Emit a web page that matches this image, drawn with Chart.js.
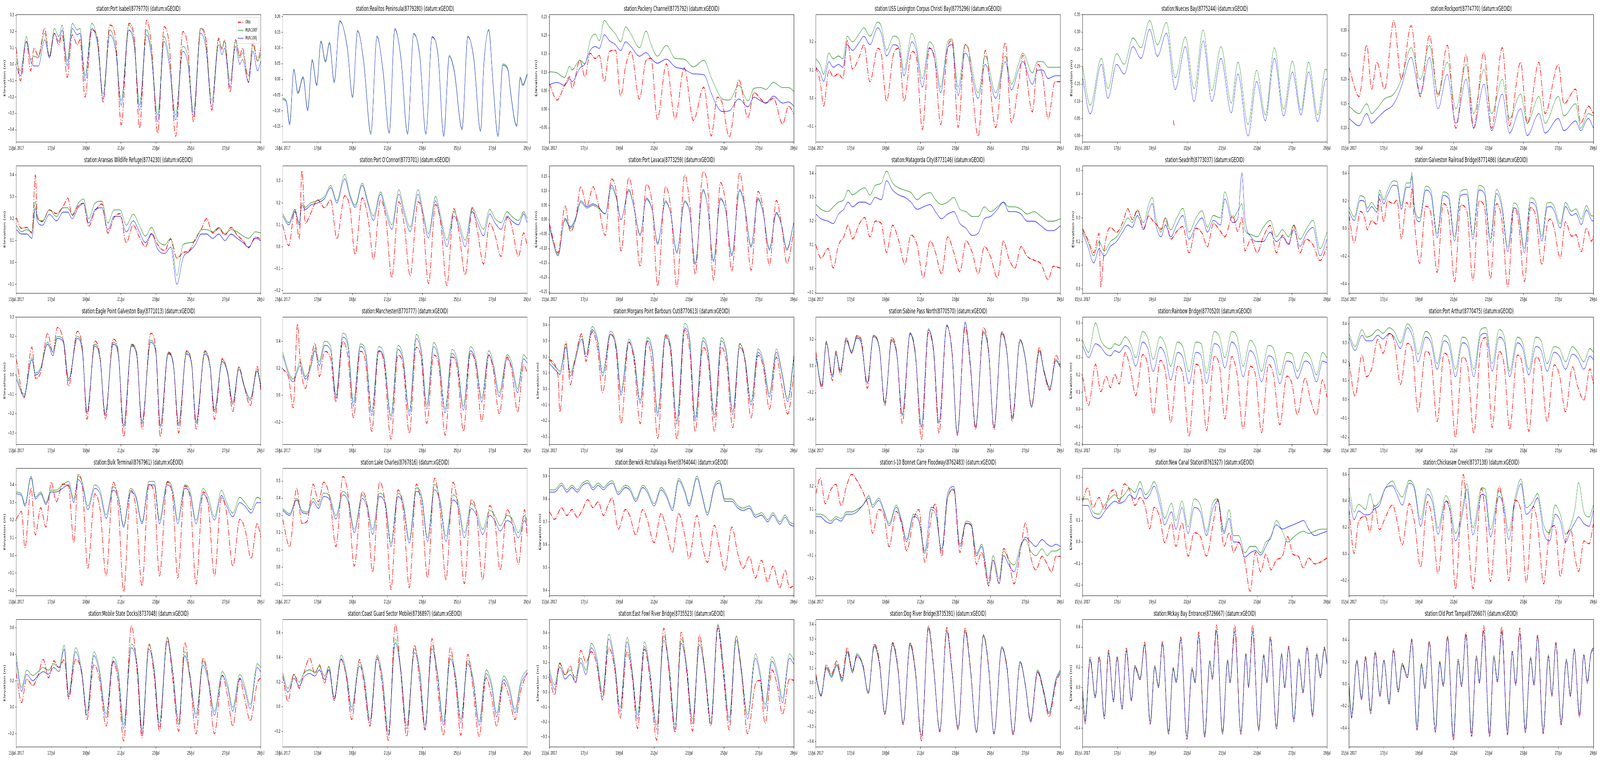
<!DOCTYPE html>
<html>
<head>
<meta charset="utf-8">
<script src="https://cdn.jsdelivr.net/npm/chart.js@4.4.0/dist/chart.umd.min.js"></script>
<style>
html, body { margin: 0; padding: 0; background: #fff; overflow: hidden; }
#view { position: absolute; left: 0; top: 0; width: 100vw; height: 100vh; overflow: hidden; background: #fff; }
#fig { position: absolute; left: 0; top: 0; width: 7800px; height: 1950px; background: #fff; transform-origin: 0 0; }
#fig canvas { position: absolute; }
</style>
</head>
<body>
<div id="view"><div id="fig"></div></div>
<script>
// x axis: days since 15 Jul 2017 00:00
const xTickDays = [0, 2, 4, 6, 8, 10, 12, 14];
const xTickLabels = ['15/Jul, 2017', '17/Jul', '19/Jul', '21/Jul', '23/Jul', '25/Jul', '27/Jul', '29/Jul'];
const seriesNames = ['Obs', 'RUN100f', 'RUN100j'];

const titles = [
  'station:Port Isabel(8779770) (datum:xGEOID)',
  'station:Realitos Peninsula(8779280) (datum:xGEOID)',
  'station:Packery Channel(8775792) (datum:xGEOID)',
  'station:USS Lexington Corpus Christi Bay(8775296) (datum:xGEOID)',
  'station:Nueces Bay(8775244) (datum:xGEOID)',
  'station:Rockport(8774770) (datum:xGEOID)',
  'station:Aransas Wildlife Refuge(8774230) (datum:xGEOID)',
  "station:Port O'Connor(8773701) (datum:xGEOID)",
  'station:Port Lavaca(8773259) (datum:xGEOID)',
  'station:Matagorda City(8773146) (datum:xGEOID)',
  'station:Seadrift(8773037) (datum:xGEOID)',
  'station:Galveston Railroad Bridge(8771486) (datum:xGEOID)',
  'station:Eagle Point Galveston Bay(8771013) (datum:xGEOID)',
  'station:Manchester(8770777) (datum:xGEOID)',
  'station:Morgans Point Barbours Cut(8770613) (datum:xGEOID)',
  'station:Sabine Pass North(8770570) (datum:xGEOID)',
  'station:Rainbow Bridge(8770520) (datum:xGEOID)',
  'station:Port Arthur(8770475) (datum:xGEOID)',
  'station:Bulk Terminal(8767961) (datum:xGEOID)',
  'station:Lake Charles(8767816) (datum:xGEOID)',
  'station:Berwick Atchafalaya River(8764044) (datum:xGEOID)',
  'station:I-10 Bonnet Carre Floodway(8762483) (datum:xGEOID)',
  'station:New Canal Station(8761927) (datum:xGEOID)',
  'station:Chickasaw Creek(8737138) (datum:xGEOID)',
  'station:Mobile State Docks(8737048) (datum:xGEOID)',
  'station:Coast Guard Sector Mobile(8736897) (datum:xGEOID)',
  'station:East Fowl River Bridge(8735523) (datum:xGEOID)',
  'station:Dog River Bridge(8735391) (datum:xGEOID)',
  'station:Mckay Bay Entrance(8726667) (datum:xGEOID)',
  'station:Old Port Tampa(8726607) (datum:xGEOID)'
];

const yLimits = [
  [-0.474, 0.305], [-0.199, 0.207], [-0.088, 0.257], [-0.154, 0.297], [-0.017, 0.351], [0.072, 0.333],
  [-0.14, 0.442], [-0.2115, 0.37], [-0.254, 0.187], [-0.102, 0.433], [-0.017, 0.52], [-0.466, 0.456],
  [-0.358, 0.301], [-0.362, 0.58], [-0.346, 0.45], [-0.586, 0.368], [-0.201, 0.535], [-0.237, 0.437],
  [-0.227, 0.495], [-0.165, 0.575], [0.378, 0.935], [-0.273, 0.28], [-0.248, 0.343], [-0.312, 0.648],
  [-0.299, 0.665], [-0.324, 0.71], [-0.367, 0.492], [-0.436, 0.435], [-0.584, 0.675], [-0.568, 0.588]
];
const ySteps = [
  0.1, 0.05, 0.05, 0.1, 0.05, 0.05,
  0.1, 0.1, 0.05, 0.1, 0.1, 0.2,
  0.1, 0.2, 0.1, 0.2, 0.1, 0.1,
  0.1, 0.1, 0.1, 0.1, 0.1, 0.2,
  0.2, 0.2, 0.1, 0.1, 0.2, 0.2
];

// ---- station series: t = day, obs / f (RUN100f) / j (RUN100j) in metres ----
const t01 = [0,0.24,0.58,0.83,1.02,1.27,1.63,1.9,2.19,2.43,2.63,2.92,3.21,3.5,3.65,3.94,4.33,4.67,4.97,5.36,5.7,6.01,6.45,6.77,7.06,7.47,7.74,8.1,8.47,8.76,9.13,9.54,9.83,10.15,10.56,10.86,11.2,11.59,11.78,11.93,12.24,12.56,12.8,12.95,13.3,13.55,13.82,14];
const obs01 = [0.10,-0.10,0.14,-0.04,0.10,0.05,0.22,0.04,0.19,0.12,0.18,-0.08,0.18,0.12,0.15,-0.20,0.21,0.15,-0.23,0.24,0.15,-0.37,0.25,0.15,-0.39,0.27,0.12,-0.42,0.23,0.12,-0.44,0.20,0.10,-0.35,0.22,0.16,-0.28,0.16,0.09,0.15,-0.17,0.15,0.05,0.10,-0.11,0.14,0.02,0.10];
const f01 = [0.02,-0.04,0.17,0.03,0.05,0.04,0.19,0.05,0.22,0.17,0.24,0.02,0.25,0.21,0.22,-0.07,0.25,0.13,-0.18,0.21,0.10,-0.22,0.24,0.12,-0.25,0.21,0.08,-0.31,0.17,0.04,-0.31,0.11,0.04,-0.29,0.22,0.13,-0.22,0.15,0.10,0.14,-0.10,0.14,0.04,0.07,-0.07,0.12,0.02,0.06];
const j01 = [-0.015,-0.07,0.14,0.02,-0.01,-0.01,0.15,0.04,0.19,0.14,0.21,-0.01,0.22,0.18,0.19,-0.10,0.22,0.11,-0.21,0.18,0.08,-0.25,0.21,0.10,-0.28,0.18,0.05,-0.35,0.14,0.00,-0.34,0.08,0.00,-0.32,0.19,0.10,-0.26,0.12,0.06,0.10,-0.14,0.11,0.00,0.03,-0.11,0.08,-0.04,0.02];

const t02 = [0,0.2,0.4,0.64,0.87,1.17,1.43,1.69,1.95,2.19,2.45,2.68,2.95,3.27,3.7,4.0,4.29,4.64,5.05,5.4,5.75,6.1,6.42,6.77,7.15,7.5,7.85,8.2,8.55,8.9,9.22,9.54,9.83,10.27,10.6,10.94,11.33,11.52,11.8,12.05,12.33,12.6,12.9,13.04,13.4,13.6,13.75,14];
const obs02 = [];
const f02 = [-0.06,-0.066,-0.14,0.033,-0.041,0.009,-0.095,0.064,-0.016,0.123,0.059,0.118,-0.006,0.184,0.104,-0.054,0.153,0.058,-0.17,0.135,0.027,-0.168,0.159,0.07,-0.17,0.144,0.077,-0.171,0.133,0.077,-0.178,0.077,0.027,-0.156,0.135,0.07,-0.162,0.052,0.156,-0.016,-0.178,0.049,0.033,-0.035,-0.146,0.008,-0.016,0.018];
const j02 = [-0.064,-0.07,-0.145,0.03,-0.045,0.005,-0.10,0.06,-0.02,0.12,0.055,0.115,-0.01,0.187,0.10,-0.058,0.156,0.054,-0.175,0.138,0.023,-0.172,0.162,0.066,-0.175,0.147,0.073,-0.175,0.136,0.073,-0.182,0.073,0.023,-0.16,0.138,0.066,-0.166,0.048,0.159,-0.02,-0.182,0.045,0.029,-0.039,-0.15,0.004,-0.02,0.014];

const t03 = [0,0.44,0.87,1.17,1.3,1.75,2.04,2.33,2.62,2.86,3.15,3.44,3.79,4.08,4.37,4.67,5.16,5.54,5.83,6.18,6.7,7.2,7.72,8.25,8.84,9.27,9.62,9.9,10.3,10.85,11.37,11.72,12.1,12.4,12.83,13.36,13.7,14];
const obs03 = [0.07,0.025,0.065,0.088,0.057,0.133,0.088,0.152,0.138,0.146,0.075,0.157,0.16,0.036,0.117,0.157,0.028,0.133,0.138,-0.027,0.123,-0.025,0.112,-0.03,0.06,-0.072,0.033,0.017,-0.075,0.08,-0.022,0.046,0.028,0.017,0.03,-0.04,0.009,-0.012];
const f03 = [0.102,0.099,0.086,0.117,0.107,0.133,0.123,0.186,0.204,0.186,0.241,0.223,0.204,0.183,0.223,0.204,0.167,0.212,0.175,0.144,0.173,0.138,0.136,0.115,0.133,0.086,0.049,0.028,0.025,0.065,0.023,0.057,0.059,0.054,0.073,0.059,0.059,0.049];
const j03 = [0.067,0.073,0.065,0.083,0.075,0.112,0.123,0.159,0.17,0.165,0.202,0.186,0.175,0.159,0.183,0.17,0.144,0.154,0.138,0.125,0.136,0.115,0.109,0.096,0.094,0.044,0.007,-0.006,-0.004,0.028,0.007,0.033,0.023,0.017,0.036,0.017,0.02,0.009];

const t04 = [0,0.25,0.45,0.75,1.0,1.3,1.55,1.8,2.1,2.5,2.75,3.1,3.55,3.75,4.05,4.45,4.75,5.05,5.5,5.75,6.1,6.5,6.8,7.15,7.55,7.8,8.15,8.55,8.7,9.3,9.7,10.3,10.85,11.2,11.6,11.85,12.4,12.7,13.0,13.3,13.7,14];
const obs04 = [0.111,0.059,-0.027,0.1,0.077,0.087,0.07,0.204,0.104,0.149,0.19,0.059,0.177,0.156,-0.01,0.156,0.177,-0.01,0.166,0.149,-0.11,0.177,0.142,-0.092,0.18,0.204,-0.103,0.19,0.183,-0.134,0.17,-0.103,0.197,-0.086,0.046,0.152,-0.048,0.121,0.073,-0.072,0.059,0.059];
const f04 = [0.14,0.12,0.085,0.16,0.14,0.15,0.14,0.22,0.2,0.23,0.25,0.22,0.27,0.255,0.17,0.22,0.21,0.1,0.23,0.19,0.07,0.2,0.17,0.04,0.2,0.21,0.04,0.19,0.18,0.02,0.15,0.02,0.15,0.05,0.12,0.16,0.09,0.13,0.13,0.11,0.11,0.11];
const j04 = [0.11,0.09,0.06,0.13,0.11,0.12,0.11,0.19,0.17,0.2,0.22,0.19,0.25,0.23,0.15,0.19,0.18,0.08,0.2,0.17,0.04,0.18,0.14,0.02,0.18,0.19,0.01,0.16,0.15,0.0,0.12,0.0,0.13,0.03,0.1,0.13,0.05,0.1,0.1,0.07,0.08,0.08];

const t05 = [0,0.44,1.08,1.46,1.95,2.39,2.89,3.35,3.85,4.29,4.81,5.2,5.25,5.31,5.89,6.39,6.91,7.41,7.93,8.52,8.9,9.48,9.97,10.47,10.99,11.52,12.02,12.51,12.95,13.47,13.91,14];
const obs05 = [null,null,null,null,null,null,null,null,null,null,null,0.045,0.03,null,null,null,null,null,null,null,null,null,null,null,null,null,null,null,null,null,null,null];
const f05 = [0.202,0.089,0.224,0.137,0.238,0.207,0.283,0.255,0.334,0.263,0.328,null,null,0.168,0.286,0.137,0.306,0.131,0.258,0.095,0.213,0.033,0.19,0.061,0.255,0.078,0.216,0.075,0.213,0.061,0.193,0.19];
const j05 = [0.17,0.064,0.207,0.109,0.207,0.179,0.258,0.224,0.308,0.23,0.297,null,null,0.134,0.258,0.1,0.275,0.1,0.224,0.067,0.179,0.0,0.157,0.044,0.224,0.058,0.185,0.061,0.185,0.042,0.162,0.165];

const t06 = [0,0.58,1.02,1.3,1.6,2.04,2.57,3.0,3.56,4.08,4.61,5.1,5.63,6.12,6.71,7.14,7.73,8.17,8.78,9.19,9.83,10.21,10.88,11.23,11.99,12.31,12.98,13.27,13.71,14];
const obs06 = [0.225,0.165,0.27,0.18,0.235,0.18,0.32,0.2,0.31,0.165,0.29,0.165,0.27,0.10,0.25,0.10,0.255,0.10,0.265,0.105,0.235,0.11,0.235,0.13,0.23,0.15,0.18,0.11,0.145,0.13];
const f06 = [0.145,0.13,0.15,0.13,0.14,0.16,0.17,0.2,0.265,0.2,0.27,0.17,0.235,0.14,0.23,0.13,0.22,0.13,0.2,0.12,0.17,0.11,0.165,0.11,0.165,0.125,0.15,0.1,0.13,0.125];
const j06 = [0.12,0.105,0.13,0.11,0.12,0.135,0.15,0.185,0.245,0.17,0.245,0.14,0.21,0.11,0.2,0.1,0.19,0.095,0.17,0.09,0.14,0.085,0.13,0.09,0.12,0.095,0.115,0.095,0.12,0.1];

const t07 = [0,0.3,0.6,0.9,1.1,1.2,1.5,1.9,2.3,2.7,2.95,3.2,3.55,3.85,4.15,4.5,4.9,5.25,5.6,5.95,6.3,6.7,7.05,7.4,7.75,8.1,8.5,8.85,9.2,9.55,9.9,10.25,10.6,10.9,11.25,11.6,11.95,12.3,12.65,13.0,13.3,13.7,14];
const obs07 = [0.205,0.156,0.16,0.134,0.40,0.214,0.187,0.24,0.223,0.258,0.294,0.214,0.258,0.27,0.165,0.232,0.267,0.134,0.205,0.223,0.09,0.17,0.116,0.072,0.134,0.081,0.054,0.107,0.019,0.045,0.054,0.107,0.152,0.2,0.134,0.156,0.125,0.16,0.125,0.098,0.067,0.116,0.107];
const f07 = [0.17,0.14,0.15,0.14,0.28,0.2,0.19,0.24,0.21,0.25,0.25,0.22,0.27,0.29,0.2,0.27,0.28,0.18,0.24,0.24,0.17,0.22,0.17,0.12,0.16,0.1,0.08,0.11,-0.06,0.08,0.09,0.1,0.15,0.15,0.14,0.16,0.13,0.15,0.14,0.12,0.11,0.14,0.135];
const j07 = [0.15,0.13,0.13,0.11,0.25,0.19,0.17,0.22,0.19,0.23,0.23,0.2,0.25,0.27,0.18,0.24,0.25,0.15,0.21,0.21,0.14,0.19,0.14,0.09,0.13,0.06,0.04,0.07,-0.1,0.02,0.05,0.08,0.13,0.13,0.11,0.13,0.1,0.13,0.11,0.09,0.07,0.11,0.1];

const t08 = [0,0.35,0.7,0.95,1.1,1.3,1.6,2.0,2.4,2.75,3.1,3.55,3.85,4.15,4.55,4.9,5.2,5.6,5.9,6.25,6.65,6.95,7.3,7.75,8.0,8.35,8.75,9.05,9.4,9.8,10.1,10.45,10.85,11.15,11.5,11.85,12.15,12.5,12.85,13.1,13.5,13.8,14];
const obs08 = [0.099,0.005,0.17,0.036,0.347,0.107,0.152,0.214,0.178,0.214,0.036,0.232,0.178,-0.035,0.223,0.125,-0.057,0.214,0.134,-0.141,0.205,0.107,-0.132,0.205,0.152,-0.168,0.192,0.107,-0.177,0.174,0.063,-0.128,0.174,0.072,-0.079,0.107,0.054,-0.044,0.134,0.099,-0.044,0.063,0.005];
const f08 = [0.15,0.11,0.17,0.11,0.2,0.18,0.2,0.21,0.23,0.28,0.21,0.33,0.24,0.19,0.29,0.2,0.14,0.25,0.18,0.1,0.26,0.17,0.09,0.26,0.18,0.06,0.23,0.14,0.03,0.16,0.11,0.03,0.18,0.13,0.08,0.17,0.13,0.11,0.16,0.14,0.12,0.16,0.13];
const j08 = [0.14,0.1,0.16,0.1,0.19,0.17,0.19,0.2,0.22,0.27,0.2,0.31,0.23,0.18,0.28,0.19,0.12,0.24,0.16,0.08,0.24,0.15,0.07,0.24,0.16,0.04,0.21,0.12,0.0,0.14,0.09,0.0,0.16,0.11,0.05,0.15,0.11,0.08,0.14,0.12,0.1,0.15,0.11];

const t09 = [0,0.5,0.9,1.2,1.5,1.8,2.15,2.5,2.8,3.2,3.55,3.85,4.1,4.55,4.85,5.2,5.55,5.9,6.2,6.65,6.95,7.3,7.75,8.05,8.35,8.8,9.05,9.4,9.8,10.1,10.45,10.9,11.2,11.55,11.95,12.25,12.6,13.0,13.3,13.6,14];
const obs09 = [-0.013,-0.114,0.047,-0.04,0.0,0.114,0.047,0.114,0.054,-0.054,0.141,0.087,-0.108,0.145,0.054,-0.162,0.121,0.047,-0.229,0.114,0.04,-0.232,0.155,0.047,-0.188,0.165,0.121,-0.209,0.128,0.054,-0.178,0.162,0.04,-0.175,0.098,0.034,-0.158,0.067,-0.02,-0.151,-0.04];
const f09 = [-0.03,-0.12,0.0,-0.03,0.0,0.06,0.04,0.05,0.04,0.02,0.11,0.07,0.0,0.1,0.04,-0.05,0.07,0.03,-0.08,0.06,0.02,-0.11,0.06,0.02,-0.15,0.1,0.05,-0.14,0.07,0.03,-0.12,0.1,0.04,-0.09,0.07,0.02,-0.1,0.02,-0.02,-0.1,-0.01];
const j09 = [-0.02,-0.125,0.005,-0.025,0.005,0.065,0.045,0.055,0.045,0.02,0.12,0.075,0.0,0.105,0.04,-0.055,0.075,0.03,-0.085,0.065,0.02,-0.115,0.065,0.02,-0.155,0.105,0.05,-0.145,0.075,0.03,-0.125,0.105,0.04,-0.095,0.075,0.02,-0.105,0.025,-0.02,-0.105,-0.01];

const t10 = [0,0.3,0.7,1.0,1.3,1.6,1.85,2.1,2.5,2.8,3.1,3.4,3.75,4.05,4.4,4.75,5.1,5.45,5.8,6.15,6.55,6.85,7.2,7.55,7.9,8.25,8.6,8.95,9.3,9.65,10.0,10.4,10.75,11.05,11.4,11.75,12.1,12.5,12.9,13.3,13.6,14];
const obs10 = [0.1,0.044,0.085,0.003,0.1,0.134,0.183,0.126,0.19,0.215,0.134,0.2,0.19,0.069,0.183,0.117,0.02,0.142,0.1,-0.038,0.117,0.069,-0.021,0.134,0.069,-0.013,0.117,0.069,-0.021,0.093,0.052,-0.038,0.117,0.044,0.003,0.093,0.052,0.036,0.02,-0.046,0.011,0.003];
const f10 = [0.27,0.25,0.24,0.26,0.28,0.29,0.33,0.31,0.33,0.34,0.31,0.35,0.36,0.41,0.36,0.34,0.33,0.32,0.29,0.31,0.32,0.29,0.27,0.28,0.3,0.25,0.24,0.22,0.22,0.26,0.24,0.26,0.28,0.26,0.26,0.25,0.23,0.24,0.22,0.2,0.2,0.21];
const j10 = [0.23,0.21,0.2,0.19,0.23,0.25,0.28,0.26,0.28,0.28,0.27,0.3,0.29,0.37,0.33,0.31,0.3,0.28,0.25,0.26,0.27,0.24,0.21,0.23,0.24,0.19,0.17,0.14,0.15,0.21,0.22,0.25,0.28,0.24,0.24,0.23,0.2,0.2,0.18,0.16,0.16,0.18];

const t11 = [0,0.3,0.65,0.95,1.05,1.25,1.6,1.95,2.3,2.6,2.85,3.15,3.5,3.8,4.0,4.2,4.5,4.75,5.05,5.4,5.75,6.1,6.5,6.85,7.15,7.5,7.9,8.15,8.6,8.9,9.13,9.3,9.65,10.0,10.35,10.75,11.1,11.45,11.8,12.1,12.45,12.8,13.2,13.6,14];
const obs11 = [0.256,0.21,0.153,0.235,0.01,0.17,0.26,0.239,0.28,0.338,0.293,0.334,0.256,0.309,0.29,0.276,0.252,0.3,0.21,0.243,0.264,0.153,0.256,0.235,0.178,0.276,0.243,0.22,0.309,0.243,0.3,0.161,0.21,0.153,0.219,0.268,0.153,0.227,0.186,0.268,0.153,0.21,0.186,0.12,0.178];
const f11 = [0.25,0.2,0.14,0.2,0.19,0.16,0.2,0.22,0.26,0.3,0.28,0.33,0.28,0.36,0.385,0.3,0.24,0.3,0.25,0.3,0.34,0.24,0.3,0.33,0.26,0.31,0.3,0.41,0.3,0.33,0.36,0.25,0.23,0.22,0.26,0.29,0.22,0.25,0.22,0.27,0.21,0.25,0.29,0.17,0.24];
const j11 = [0.24,0.18,0.11,0.17,0.16,0.14,0.18,0.2,0.24,0.27,0.26,0.31,0.25,0.33,0.36,0.27,0.22,0.27,0.22,0.27,0.31,0.21,0.27,0.3,0.24,0.29,0.27,0.38,0.28,0.3,0.49,0.3,0.22,0.2,0.2,0.24,0.2,0.22,0.19,0.25,0.18,0.23,0.26,0.14,0.21];

const t12 = [0,0.3,0.65,0.9,1.05,1.3,1.6,1.75,2.0,2.2,2.55,2.75,3.0,3.3,3.5,3.6,3.75,4.05,4.4,4.7,5.05,5.4,5.7,6.05,6.4,6.75,7.1,7.45,7.75,8.1,8.45,8.75,9.1,9.45,9.7,10.05,10.4,10.7,11.05,11.35,11.55,11.75,12.1,12.4,12.75,13.0,13.3,13.6,13.9,14];
const obs12 = [0.097,-0.1,0.125,0.078,-0.007,0.059,0.031,0.216,0.05,0.2,0.181,0.209,-0.072,0.19,0.153,0.294,0.05,-0.25,0.162,0.106,-0.316,0.181,0.106,-0.382,0.172,0.125,-0.373,0.2,0.162,-0.363,0.181,0.069,-0.42,0.153,0.059,-0.382,0.153,0.087,-0.26,0.031,0.069,0.003,-0.213,0.05,-0.054,-0.044,-0.166,0.003,-0.091,-0.054];
const f12 = [0.158,0.087,0.238,0.223,0.148,0.19,0.144,0.28,0.209,0.275,0.346,0.341,0.167,0.331,0.331,0.407,0.162,0.078,0.308,0.275,-0.035,0.266,0.247,-0.058,0.27,0.284,-0.044,0.313,0.289,-0.072,0.284,0.186,-0.133,0.186,0.144,-0.143,0.223,0.19,-0.054,0.186,0.19,0.162,0.036,0.19,0.125,0.144,0.069,0.167,0.092,0.092];
const j12 = [0.125,0.06,0.205,0.195,0.12,0.16,0.12,0.25,0.18,0.24,0.315,0.31,0.14,0.3,0.3,0.38,0.135,0.05,0.28,0.245,-0.065,0.24,0.22,-0.09,0.24,0.25,-0.075,0.28,0.255,-0.1,0.255,0.155,-0.165,0.15,0.11,-0.175,0.19,0.16,-0.09,0.155,0.16,0.13,0.005,0.16,0.095,0.11,0.03,0.135,0.06,0.055];

const t13 = [0,0.45,0.9,1.1,1.4,1.8,2.1,2.35,2.7,3.0,3.5,3.8,4.05,4.5,4.8,5.1,5.55,5.85,6.15,6.6,6.9,7.2,7.7,8.0,8.25,8.7,9.0,9.3,9.75,10.05,10.3,10.8,11.1,11.35,11.8,12.1,12.4,12.75,13.05,13.4,13.8,14];
const obs13 = [0.085,-0.117,0.145,-0.016,0.014,0.216,0.115,0.246,0.176,-0.057,0.226,0.125,-0.228,0.176,0.095,-0.228,0.186,0.115,-0.319,0.156,0.115,-0.279,0.216,0.125,-0.319,0.115,0.055,-0.299,0.125,0.055,-0.279,0.125,0.044,-0.228,0.085,0.014,-0.188,0.044,-0.057,-0.158,0.044,-0.077];
const f13 = [0.0,-0.1,0.09,0.01,0.04,0.17,0.12,0.2,0.18,-0.02,0.2,0.12,-0.19,0.16,0.09,-0.2,0.17,0.11,-0.26,0.16,0.11,-0.24,0.18,0.12,-0.26,0.12,0.06,-0.25,0.12,0.06,-0.24,0.12,0.05,-0.18,0.08,0.02,-0.14,0.04,-0.05,-0.12,0.03,-0.05];
const j13 = [-0.02,-0.11,0.08,0.0,0.03,0.16,0.1,0.19,0.17,-0.03,0.19,0.11,-0.2,0.15,0.08,-0.21,0.16,0.1,-0.27,0.15,0.1,-0.25,0.17,0.11,-0.27,0.11,0.05,-0.26,0.11,0.05,-0.25,0.11,0.04,-0.19,0.07,0.01,-0.15,0.03,-0.06,-0.13,0.02,-0.06];

const t14 = [0,0.35,0.6,0.85,1.0,1.3,1.6,1.85,2.1,2.4,2.75,3.05,3.45,3.75,4.05,4.45,4.75,5.1,5.5,5.8,6.2,6.6,6.9,7.25,7.65,7.95,8.25,8.65,8.95,9.3,9.7,10.0,10.35,10.75,11.05,11.4,11.8,12.05,12.4,12.85,13.1,13.45,13.8,14];
const obs14 = [0.196,0.124,-0.092,0.528,0.254,0.052,0.254,0.384,0.139,0.325,0.269,-0.049,0.399,0.269,-0.165,0.326,0.24,-0.266,0.326,0.24,-0.323,0.297,0.211,-0.28,0.355,0.254,-0.208,0.297,0.211,-0.295,0.283,0.196,-0.266,0.312,0.225,-0.193,0.297,0.196,-0.136,0.283,0.196,-0.121,0.225,0.167];
const f14 = [0.32,0.17,0.12,0.2,0.25,0.14,0.22,0.35,0.25,0.4,0.36,0.0,0.46,0.38,-0.05,0.38,0.33,-0.12,0.36,0.3,-0.15,0.37,0.28,-0.12,0.45,0.33,-0.07,0.39,0.28,-0.1,0.34,0.26,-0.08,0.36,0.28,-0.02,0.33,0.25,0.02,0.3,0.25,0.05,0.3,0.27];
const j14 = [0.3,0.15,0.1,0.18,0.22,0.12,0.2,0.33,0.22,0.37,0.33,-0.02,0.43,0.35,-0.08,0.36,0.3,-0.15,0.33,0.27,-0.18,0.34,0.25,-0.15,0.42,0.3,-0.1,0.36,0.25,-0.13,0.31,0.23,-0.11,0.33,0.25,-0.05,0.3,0.22,-0.01,0.27,0.22,0.02,0.27,0.24];

const t15 = [0,0.5,0.6,0.95,1.2,1.45,1.85,2.1,2.45,2.75,3.05,3.5,3.85,4.1,4.55,4.85,5.2,5.6,5.9,6.2,6.65,6.95,7.3,7.75,8.05,8.35,8.8,9.1,9.45,9.85,10.15,10.5,10.9,11.2,11.55,11.95,12.25,12.6,13.0,13.3,13.65,14];
const obs15 = [0.186,0.076,-0.144,0.295,0.027,0.173,0.344,0.173,0.357,0.259,-0.022,0.344,0.21,-0.217,0.295,0.173,-0.217,0.295,0.137,-0.309,0.332,0.222,-0.315,0.369,0.222,-0.266,0.259,0.173,-0.266,0.259,0.161,-0.242,0.283,0.173,-0.181,0.21,0.137,-0.126,0.198,0.027,-0.156,0.088];
const f15 = [0.18,0.12,0.11,0.28,0.1,0.18,0.33,0.22,0.39,0.32,0.1,0.36,0.26,-0.02,0.31,0.22,-0.07,0.32,0.24,-0.15,0.34,0.27,-0.2,0.41,0.3,-0.18,0.32,0.23,-0.16,0.32,0.23,-0.14,0.28,0.2,-0.08,0.25,0.18,-0.03,0.25,0.12,-0.06,0.21];
const j15 = [0.16,0.1,0.09,0.26,0.08,0.16,0.31,0.2,0.37,0.3,0.08,0.34,0.24,-0.04,0.29,0.2,-0.09,0.3,0.22,-0.17,0.32,0.25,-0.22,0.38,0.28,-0.2,0.3,0.21,-0.18,0.3,0.21,-0.16,0.26,0.18,-0.1,0.23,0.16,-0.05,0.23,0.1,-0.08,0.19];

const t16 = [0,0.35,0.6,0.95,1.15,1.4,1.75,2.05,2.35,2.6,2.95,3.3,3.65,3.95,4.35,4.65,4.95,5.4,5.7,6.05,6.45,6.75,7.05,7.5,7.8,8.1,8.55,8.85,9.15,9.6,9.9,10.2,10.65,10.95,11.25,11.7,12.0,12.35,12.8,13.05,13.4,13.75,14];
const obs16 = [0.111,-0.167,0.184,-0.108,0.111,-0.064,0.214,0.097,0.228,0.199,-0.167,0.228,0.126,-0.298,0.214,0.082,-0.43,0.243,0.097,-0.547,0.25,0.097,-0.503,0.301,0.111,-0.518,0.294,-0.006,-0.474,0.287,0.111,-0.474,0.258,0.097,-0.416,0.199,0.053,-0.298,0.14,-0.035,-0.181,0.082,0.009];
const f16 = [0.08,-0.14,0.18,-0.07,0.1,-0.03,0.2,0.11,0.22,0.18,-0.12,0.23,0.13,-0.27,0.2,0.08,-0.36,0.25,0.09,-0.45,0.28,0.12,-0.42,0.3,0.1,-0.5,0.32,0.02,-0.45,0.26,0.1,-0.45,0.25,0.1,-0.38,0.2,0.06,-0.3,0.12,-0.02,-0.16,0.05,0.0];
const j16 = [0.07,-0.15,0.17,-0.08,0.09,-0.04,0.19,0.1,0.21,0.17,-0.13,0.22,0.12,-0.28,0.19,0.07,-0.37,0.24,0.08,-0.46,0.27,0.11,-0.43,0.31,0.09,-0.52,0.33,0.01,-0.46,0.25,0.09,-0.46,0.24,0.09,-0.39,0.19,0.05,-0.31,0.11,-0.03,-0.17,0.04,-0.01];

const t17 = [0,0.35,0.75,1.05,1.35,1.6,1.85,2.1,2.45,2.75,3.05,3.45,3.75,4.05,4.45,4.75,5.05,5.45,5.75,6.1,6.5,6.8,7.1,7.55,7.85,8.15,8.55,8.85,9.2,9.6,9.9,10.25,10.65,10.95,11.3,11.7,12.0,12.3,12.75,13.05,13.4,13.75,14];
const obs17 = [0.193,0.025,0.261,0.103,0.193,0.126,0.204,0.148,0.328,0.227,0.081,0.317,0.249,-0.031,0.283,0.216,-0.076,0.249,0.204,-0.155,0.261,0.204,-0.121,0.306,0.249,-0.054,0.306,0.204,-0.11,0.249,0.204,-0.133,0.261,0.193,-0.088,0.193,0.148,-0.031,0.182,0.058,-0.031,0.171,0.07];
const f17 = [0.4,0.33,0.5,0.4,0.36,0.35,0.38,0.37,0.42,0.38,0.3,0.45,0.41,0.29,0.42,0.37,0.25,0.39,0.36,0.22,0.39,0.38,0.21,0.45,0.42,0.3,0.45,0.42,0.25,0.4,0.36,0.22,0.37,0.35,0.2,0.33,0.32,0.22,0.33,0.3,0.2,0.33,0.3];
const j17 = [0.37,0.3,0.38,0.36,0.32,0.31,0.34,0.33,0.37,0.34,0.25,0.39,0.35,0.22,0.36,0.31,0.17,0.33,0.3,0.15,0.33,0.31,0.15,0.38,0.36,0.24,0.39,0.35,0.19,0.34,0.3,0.16,0.31,0.29,0.15,0.28,0.27,0.18,0.28,0.26,0.16,0.28,0.27];

const t18 = [0,0.35,0.75,1.0,1.3,1.65,1.95,2.3,2.6,2.95,3.35,3.65,3.95,4.4,4.7,5.05,5.45,5.75,6.1,6.5,6.8,7.15,7.55,7.85,8.2,8.6,8.9,9.2,9.65,9.95,10.3,10.7,11.0,11.35,11.75,12.05,12.4,12.8,13.1,13.45,13.8,14];
const obs18 = [0.204,0.018,0.235,0.121,0.162,0.317,0.245,0.348,0.307,0.08,0.297,0.245,-0.065,0.255,0.214,-0.117,0.245,0.193,-0.2,0.224,0.173,-0.179,0.286,0.328,-0.148,0.255,0.173,-0.158,0.235,0.173,-0.169,0.224,0.173,-0.117,0.183,0.131,-0.065,0.173,0.069,-0.003,0.162,0.08];
const f18 = [0.35,0.28,0.37,0.33,0.34,0.37,0.35,0.38,0.36,0.3,0.4,0.36,0.24,0.36,0.33,0.19,0.34,0.31,0.16,0.33,0.31,0.16,0.37,0.38,0.19,0.37,0.33,0.15,0.33,0.3,0.16,0.33,0.31,0.19,0.28,0.27,0.2,0.28,0.25,0.2,0.27,0.25];
const j18 = [0.33,0.26,0.34,0.31,0.31,0.34,0.32,0.35,0.33,0.27,0.38,0.33,0.2,0.33,0.3,0.16,0.31,0.28,0.12,0.3,0.28,0.12,0.34,0.35,0.15,0.33,0.3,0.12,0.3,0.27,0.13,0.28,0.26,0.15,0.25,0.23,0.16,0.24,0.22,0.16,0.23,0.21];

const t19 = [0,0.3,0.5,0.85,1.1,1.4,1.7,2.0,2.3,2.65,3.0,3.3,3.55,3.8,4.1,4.5,4.8,5.15,5.55,5.85,6.15,6.55,6.85,7.2,7.6,7.9,8.2,8.65,8.95,9.25,9.65,9.95,10.3,10.7,11.0,11.35,11.75,12.05,12.4,12.8,13.1,13.45,13.8,14];
const obs19 = [0.205,0.249,0.044,0.382,0.116,0.271,0.161,0.415,0.305,0.404,0.393,0.072,0.46,0.382,-0.072,0.349,0.26,-0.116,0.415,0.271,-0.205,0.371,0.271,-0.172,0.404,0.349,-0.116,0.415,0.338,-0.127,0.393,0.327,-0.161,0.36,0.282,-0.116,0.327,0.238,-0.061,0.205,0.15,-0.017,0.183,0.105];
const f19 = [0.36,0.35,0.29,0.45,0.33,0.36,0.3,0.37,0.37,0.4,0.42,0.32,0.45,0.41,0.28,0.4,0.37,0.23,0.39,0.34,0.17,0.38,0.34,0.19,0.42,0.42,0.2,0.42,0.38,0.2,0.4,0.37,0.2,0.38,0.33,0.22,0.37,0.3,0.24,0.33,0.3,0.26,0.33,0.32];
const j19 = [0.35,0.34,0.28,0.44,0.32,0.35,0.29,0.36,0.36,0.38,0.4,0.3,0.43,0.39,0.26,0.38,0.35,0.21,0.37,0.32,0.16,0.36,0.33,0.18,0.4,0.4,0.18,0.4,0.36,0.18,0.38,0.35,0.18,0.35,0.3,0.2,0.34,0.28,0.22,0.3,0.28,0.24,0.3,0.3];

const t20 = [0,0.4,0.8,1.1,1.4,1.75,2.05,2.35,2.7,3.05,3.45,3.75,4.1,4.55,4.85,5.15,5.55,5.9,6.2,6.6,6.9,7.25,7.65,7.95,8.3,8.7,9.0,9.35,9.75,10.05,10.4,10.8,11.1,11.45,11.85,12.15,12.45,12.85,13.15,13.5,13.85,14];
const obs20 = [0.278,0.119,0.459,0.255,0.266,0.482,0.38,0.493,0.402,0.119,0.527,0.414,0.006,0.437,0.346,-0.028,0.493,0.334,-0.13,0.448,0.334,-0.119,0.482,0.346,-0.062,0.516,0.346,-0.074,0.493,0.334,-0.096,0.391,0.312,-0.074,0.357,0.266,-0.017,0.334,0.255,0.017,0.334,0.176];
const f20 = [0.34,0.31,0.4,0.33,0.32,0.4,0.36,0.43,0.41,0.3,0.44,0.4,0.22,0.42,0.36,0.22,0.43,0.37,0.14,0.43,0.38,0.16,0.46,0.42,0.17,0.48,0.4,0.18,0.42,0.38,0.2,0.37,0.33,0.22,0.33,0.3,0.24,0.3,0.28,0.2,0.3,0.27];
const j20 = [0.33,0.3,0.39,0.32,0.31,0.38,0.34,0.41,0.39,0.28,0.42,0.38,0.2,0.4,0.34,0.19,0.41,0.35,0.12,0.41,0.36,0.14,0.44,0.4,0.15,0.45,0.38,0.15,0.39,0.35,0.17,0.34,0.3,0.19,0.3,0.27,0.21,0.27,0.25,0.17,0.27,0.24];

const t21 = [0,0.3,0.7,1.0,1.3,1.6,1.9,2.2,2.5,2.8,3.1,3.35,3.6,3.95,4.35,4.6,4.95,5.35,5.6,6.0,6.4,6.7,7.05,7.4,7.75,8.0,8.45,8.75,9.05,9.45,9.75,10.05,10.45,10.8,11.1,11.45,11.8,12.15,12.5,12.8,13.2,13.5,13.75,14];
const obs21 = [0.745,0.711,0.762,0.728,0.754,0.72,0.754,0.797,0.762,0.788,0.728,0.771,0.805,0.668,0.754,0.728,0.643,0.754,0.711,0.609,0.737,0.668,0.566,0.737,0.643,0.54,0.728,0.6,0.523,0.685,0.583,0.489,0.677,0.557,0.497,0.549,0.455,0.532,0.438,0.506,0.412,0.489,0.412,0.421];
const f21 = [0.84,0.84,0.87,0.84,0.86,0.84,0.87,0.88,0.85,0.87,0.85,0.87,0.88,0.83,0.86,0.85,0.8,0.86,0.84,0.78,0.85,0.82,0.76,0.89,0.84,0.78,0.9,0.82,0.74,0.86,0.88,0.8,0.8,0.77,0.76,0.77,0.73,0.74,0.71,0.74,0.7,0.73,0.7,0.69];
const j21 = [0.83,0.83,0.86,0.83,0.85,0.83,0.86,0.87,0.84,0.86,0.84,0.86,0.87,0.82,0.85,0.84,0.79,0.85,0.83,0.77,0.84,0.81,0.75,0.88,0.83,0.77,0.89,0.81,0.73,0.85,0.87,0.79,0.79,0.76,0.75,0.76,0.72,0.73,0.7,0.73,0.69,0.72,0.69,0.68];

const t22 = [0,0.25,0.55,0.85,1.15,1.45,1.75,2.05,2.35,2.7,3.05,3.25,3.6,3.9,4.2,4.6,4.9,5.2,5.6,5.9,6.25,6.6,6.85,7.2,7.55,7.9,8.25,8.6,8.9,9.2,9.5,9.9,10.15,10.5,10.75,11.05,11.35,11.75,12.0,12.3,12.6,12.95,13.25,13.5,13.75,14];
const obs22 = [0.168,0.236,0.125,0.185,0.21,0.117,0.2,0.253,0.227,0.176,0.1,-0.002,0.1,0.075,-0.061,0.092,0.041,-0.078,0.058,0.1,-0.129,0.066,0.125,-0.103,0.151,0.185,-0.086,0.041,0.032,-0.137,-0.086,-0.231,-0.12,-0.222,-0.069,-0.12,-0.222,-0.061,0.041,-0.103,-0.163,-0.103,-0.137,-0.171,-0.103,-0.103];
const f22 = [0.08,0.08,0.07,0.05,0.07,0.06,0.09,0.09,0.1,0.12,0.16,0.12,0.15,0.1,0.04,0.12,0.06,-0.03,0.08,0.06,-0.08,0.1,0.08,-0.07,0.15,0.19,-0.05,0.05,0.04,-0.09,-0.05,-0.2,-0.1,-0.2,-0.08,-0.12,-0.14,-0.05,-0.03,-0.08,-0.1,-0.07,-0.1,-0.08,-0.08,-0.07];
const j22 = [0.07,0.07,0.05,0.04,0.06,0.05,0.08,0.08,0.09,0.12,0.15,0.11,0.14,0.09,0.03,0.11,0.05,-0.04,0.07,0.05,-0.09,0.11,0.1,-0.08,0.17,0.2,-0.06,0.04,0.03,-0.1,-0.06,-0.22,-0.12,-0.22,-0.1,-0.14,-0.17,-0.06,-0.02,-0.04,-0.06,-0.03,-0.05,-0.06,-0.05,-0.06];

const t23 = [0,0.3,0.6,0.95,1.25,1.55,1.85,2.1,2.4,2.7,3.0,3.3,3.6,3.85,4.1,4.45,4.7,5.1,5.35,5.7,6.05,6.4,6.75,7.1,7.45,7.75,8.1,8.4,8.65,8.95,9.3,9.6,9.9,10.2,10.5,10.8,11.1,11.45,11.75,12.05,12.35,12.65,12.95,13.3,13.65,14];
const obs23 = [0.188,0.252,0.161,0.207,0.152,0.225,0.243,0.188,0.27,0.243,0.17,0.207,0.161,0.062,0.161,0.107,-0.002,0.089,-0.02,0.089,-0.065,0.043,0.025,-0.065,0.071,0.197,-0.02,0.043,-0.047,-0.002,-0.092,-0.228,-0.047,-0.138,-0.056,-0.129,-0.083,-0.065,0.025,-0.056,-0.065,-0.12,-0.074,-0.101,-0.092,-0.074];
const f23 = [0.2,0.2,0.14,0.13,0.17,0.2,0.22,0.2,0.22,0.25,0.23,0.28,0.22,0.24,0.28,0.2,0.11,0.18,0.1,0.19,0.07,0.2,0.17,0.05,0.18,0.2,0.05,0.15,0.03,0.03,-0.05,-0.02,-0.02,-0.05,0.0,0.02,0.1,0.05,0.0,0.02,0.04,0.05,0.04,0.05,0.06,0.06];
const j23 = [0.17,0.17,0.12,0.11,0.14,0.17,0.19,0.18,0.19,0.22,0.2,0.25,0.2,0.22,0.26,0.17,0.08,0.14,0.06,0.16,0.04,0.16,0.14,0.03,0.15,0.19,0.04,0.11,0.0,0.0,-0.07,-0.05,-0.04,-0.06,-0.02,0.03,0.08,0.06,0.07,0.08,0.09,0.1,0.06,0.03,0.04,0.05];

const t24 = [0,0.3,0.55,0.95,1.2,1.45,1.75,2.1,2.5,2.75,3.05,3.45,3.75,4.1,4.5,4.8,5.1,5.55,5.8,6.1,6.55,6.75,7.1,7.6,7.8,8.1,8.6,8.85,9.15,9.5,9.85,10.15,10.55,10.8,11.15,11.5,11.8,12.1,12.4,12.7,12.95,13.15,13.45,13.75,14];
const obs24 = [0.341,0.005,0.244,0.283,0.166,0.371,0.185,0.283,0.371,0.254,0.068,0.38,0.244,-0.098,0.395,0.224,-0.146,0.4,0.322,-0.263,0.6,0.3,-0.259,0.493,0.312,-0.205,0.512,0.322,-0.2,0.405,0.322,-0.215,0.361,0.224,-0.224,0.18,0.215,-0.17,0.098,0.185,-0.03,-0.13,0.098,0.078,0.229];
const f24 = [0.512,0.317,0.376,0.337,0.454,0.361,0.395,0.5,0.551,0.483,0.43,0.556,0.507,0.26,0.493,0.42,0.195,0.441,0.37,0.156,0.38,0.532,0.2,0.5,0.49,0.185,0.478,0.4,0.176,0.42,0.566,0.35,0.4,0.458,0.22,0.16,0.37,0.3,0.15,0.22,0.35,0.54,0.32,0.28,0.37];
const j24 = [0.44,0.26,0.325,0.295,0.3,0.34,0.37,0.5,0.515,0.45,0.37,0.535,0.49,0.21,0.45,0.38,0.15,0.4,0.32,0.1,0.34,0.49,0.145,0.45,0.44,0.13,0.435,0.36,0.11,0.38,0.53,0.3,0.36,0.425,0.16,0.1,0.3,0.25,0.09,0.18,0.24,0.28,0.23,0.21,0.33];

const t25 = [0,0.3,0.6,0.95,1.25,1.55,1.85,2.15,2.45,2.75,3.0,3.4,3.75,4.05,4.45,4.75,5.15,5.55,5.85,6.15,6.6,6.95,7.2,7.6,7.9,8.2,8.65,8.95,9.3,9.65,9.95,10.3,10.7,11.0,11.35,11.8,12.1,12.4,12.8,13.05,13.4,13.8,14];
const obs25 = [0.262,0.035,0.213,0.164,0.242,0.361,0.223,0.351,0.301,0.361,0.065,0.361,0.262,-0.093,0.321,0.223,-0.142,0.341,0.183,-0.255,0.617,0.223,-0.231,0.479,0.233,-0.181,0.528,0.223,-0.181,0.489,0.223,-0.201,0.37,0.223,-0.201,0.242,0.085,-0.142,0.213,0.085,-0.102,0.183,0.223];
const f25 = [0.4,0.15,0.28,0.24,0.27,0.3,0.28,0.33,0.3,0.47,0.1,0.45,0.28,-0.03,0.42,0.3,-0.05,0.38,0.27,-0.13,0.48,0.3,-0.17,0.47,0.3,-0.12,0.53,0.3,-0.1,0.42,0.25,-0.05,0.35,0.22,-0.03,0.27,0.18,0.0,0.25,0.18,0.02,0.33,0.3];
const j25 = [0.35,0.12,0.25,0.2,0.24,0.27,0.25,0.3,0.27,0.44,0.08,0.42,0.25,-0.06,0.39,0.27,-0.08,0.35,0.24,-0.16,0.45,0.27,-0.2,0.44,0.27,-0.15,0.5,0.27,-0.13,0.39,0.22,-0.08,0.32,0.19,-0.06,0.24,0.15,-0.03,0.22,0.15,-0.01,0.3,0.27];

const t26 = [0,0.3,0.65,0.95,1.2,1.55,1.85,2.1,2.4,2.65,2.95,3.35,3.65,3.95,4.4,4.65,5.0,5.4,5.7,6.05,6.45,6.75,7.1,7.55,7.85,8.15,8.55,8.85,9.2,9.6,9.9,10.2,10.6,10.9,11.25,11.65,11.95,12.25,12.65,12.95,13.3,13.65,14];
const obs26 = [0.257,0.046,0.268,0.151,0.268,0.395,0.268,0.342,0.194,0.321,0.067,0.384,0.236,-0.103,0.384,0.194,-0.156,0.405,0.172,-0.272,0.67,0.299,-0.24,0.5,0.194,-0.187,0.553,0.194,-0.23,0.479,0.194,-0.23,0.426,0.151,-0.24,0.236,0.088,-0.156,0.194,0.088,-0.103,0.141,0.278];
const f26 = [0.28,0.15,0.26,0.2,0.27,0.3,0.28,0.33,0.25,0.33,0.08,0.42,0.28,0.0,0.36,0.26,-0.1,0.42,0.26,-0.2,0.55,0.33,-0.15,0.47,0.3,-0.15,0.5,0.3,-0.12,0.42,0.26,-0.1,0.38,0.24,-0.12,0.3,0.2,-0.05,0.25,0.18,-0.02,0.22,0.3];
const j26 = [0.25,0.12,0.23,0.17,0.24,0.27,0.25,0.3,0.22,0.3,0.05,0.39,0.25,-0.03,0.33,0.23,-0.13,0.39,0.23,-0.23,0.52,0.3,-0.18,0.44,0.27,-0.18,0.47,0.27,-0.15,0.39,0.23,-0.13,0.35,0.21,-0.15,0.27,0.17,-0.08,0.22,0.15,-0.05,0.19,0.27];

const t27 = [0,0.3,0.6,0.9,1.2,1.5,1.8,2.1,2.4,2.7,3.05,3.4,3.75,4.05,4.45,4.75,5.05,5.45,5.75,6.15,6.55,6.85,7.2,7.55,7.85,8.2,8.6,8.9,9.25,9.65,9.95,10.3,10.7,11.0,11.35,11.8,12.05,12.35,12.75,13.05,13.35,13.75,14];
const obs27 = [0.098,-0.016,0.195,0.116,0.177,0.063,0.282,0.204,0.274,0.195,-0.051,0.3,0.151,-0.174,0.274,0.098,-0.244,0.291,0.098,-0.323,0.432,0.133,-0.27,0.405,0.151,-0.261,0.388,0.133,-0.226,0.432,0.133,-0.253,0.379,0.133,-0.279,0.054,0.081,-0.209,0.151,0.046,-0.147,0.089,0.081];
const f27 = [0.16,0.05,0.2,0.12,0.15,0.1,0.23,0.15,0.33,0.25,0.0,0.39,0.2,-0.1,0.37,0.15,-0.15,0.34,0.16,-0.22,0.38,0.2,-0.22,0.36,0.2,-0.18,0.35,0.17,-0.18,0.46,0.2,-0.17,0.38,0.16,-0.15,0.26,0.15,-0.08,0.24,0.14,-0.04,0.26,0.22];
const j27 = [0.13,0.02,0.17,0.09,0.12,0.07,0.2,0.12,0.3,0.22,-0.03,0.36,0.17,-0.13,0.34,0.12,-0.18,0.31,0.13,-0.25,0.35,0.17,-0.25,0.33,0.17,-0.21,0.32,0.14,-0.21,0.45,0.17,-0.2,0.35,0.13,-0.18,0.23,0.12,-0.11,0.21,0.11,-0.07,0.23,0.19];

const t28 = [0,0.3,0.6,0.9,1.2,1.5,1.8,2.1,2.35,2.7,3.0,3.35,3.65,3.95,4.4,4.7,5.0,5.4,5.7,6.05,6.45,6.75,7.1,7.5,7.8,8.15,8.55,8.85,9.2,9.6,9.9,10.2,10.65,10.95,11.3,11.7,12.0,12.3,12.7,13.05,13.35,13.75,14];
const obs28 = [0.062,-0.089,0.125,0.062,0.151,0.036,0.24,0.089,0.178,0.125,-0.071,0.267,0.142,-0.214,0.276,0.107,-0.285,0.276,0.089,-0.396,0.391,0.107,-0.334,0.378,0.089,-0.32,0.374,0.107,-0.338,0.329,0.107,-0.347,0.24,0.107,-0.356,0.142,-0.018,-0.267,0.071,-0.071,-0.231,0.0,0.071];
const f28 = [0.05,-0.08,0.11,0.05,0.13,0.02,0.22,0.08,0.2,0.12,-0.06,0.26,0.13,-0.2,0.27,0.1,-0.27,0.27,0.08,-0.36,0.38,0.1,-0.32,0.36,0.08,-0.3,0.36,0.1,-0.33,0.33,0.1,-0.34,0.25,0.1,-0.34,0.15,-0.01,-0.25,0.09,-0.05,-0.2,0.03,0.09];
const j28 = [0.04,-0.09,0.1,0.04,0.12,0.01,0.21,0.07,0.19,0.11,-0.07,0.25,0.12,-0.21,0.26,0.09,-0.28,0.26,0.07,-0.37,0.37,0.09,-0.33,0.35,0.07,-0.31,0.35,0.09,-0.34,0.32,0.09,-0.35,0.24,0.09,-0.35,0.14,-0.02,-0.26,0.08,-0.06,-0.21,0.02,0.08];

const t29 = [0,0.15,0.44,0.73,0.96,1.25,1.49,1.78,1.98,2.27,2.51,2.8,3.0,3.3,3.56,3.88,4.14,4.35,4.58,4.93,5.19,5.37,5.63,5.98,6.27,6.45,6.65,7.0,7.29,7.44,7.67,8.02,8.31,8.45,8.72,9.07,9.36,9.51,9.74,10.09,10.38,10.56,10.76,11.11,11.4,11.58,11.81,12.1,12.39,12.63,12.86,13.18,13.41,13.62,13.85,14];
const obs29 = [0.0,-0.33,0.3,-0.1,0.31,-0.3,0.37,-0.14,0.31,-0.21,0.39,-0.13,0.21,0.08,0.45,-0.36,0.21,0.0,0.46,-0.46,0.19,0.05,0.5,-0.51,0.18,0.05,0.55,-0.49,0.26,0.09,0.62,-0.46,0.27,0.05,0.62,-0.46,0.33,0.0,0.62,-0.42,0.32,0.05,0.51,-0.41,0.33,0.0,0.41,-0.33,0.28,-0.05,0.41,-0.28,0.33,0.1,0.4,0.24];
const f29 = [-0.02,-0.3,0.28,-0.08,0.3,-0.28,0.35,-0.12,0.3,-0.19,0.37,-0.11,0.22,0.1,0.43,-0.33,0.22,0.02,0.44,-0.43,0.2,0.07,0.48,-0.48,0.2,0.07,0.52,-0.46,0.27,0.1,0.57,-0.43,0.28,0.07,0.56,-0.43,0.34,0.02,0.56,-0.4,0.33,0.07,0.49,-0.38,0.34,0.02,0.4,-0.31,0.29,-0.03,0.4,-0.26,0.34,0.12,0.39,0.25];
const j29 = [-0.04,-0.36,0.27,-0.1,0.29,-0.31,0.34,-0.14,0.29,-0.21,0.36,-0.13,0.2,0.08,0.42,-0.36,0.2,0.0,0.43,-0.46,0.18,0.05,0.47,-0.51,0.18,0.05,0.51,-0.49,0.25,0.08,0.56,-0.46,0.26,0.05,0.55,-0.46,0.32,0.0,0.55,-0.43,0.31,0.05,0.48,-0.41,0.32,0.0,0.39,-0.34,0.27,-0.05,0.39,-0.29,0.32,0.1,0.38,0.23];

const t30 = [0,0.15,0.45,0.72,0.95,1.25,1.5,1.78,2.0,2.3,2.55,2.82,3.05,3.35,3.6,3.9,4.15,4.35,4.6,4.95,5.2,5.4,5.65,5.98,6.25,6.45,6.7,7.02,7.3,7.47,7.72,8.05,8.3,8.5,8.75,9.08,9.35,9.55,9.78,10.1,10.4,10.6,10.8,11.12,11.42,11.62,11.85,12.15,12.45,12.68,12.9,13.2,13.45,13.65,13.85,14];
const obs30 = [0.01,-0.3,0.22,-0.14,0.25,-0.26,0.3,-0.11,0.22,-0.18,0.32,-0.07,0.18,0.06,0.41,-0.41,0.18,-0.04,0.39,-0.43,0.2,-0.02,0.44,-0.51,0.22,-0.02,0.47,-0.48,0.25,0.01,0.53,-0.48,0.25,0.02,0.52,-0.46,0.3,-0.01,0.51,-0.44,0.24,-0.01,0.45,-0.45,0.26,-0.11,0.38,-0.37,0.22,-0.11,0.32,-0.3,0.27,0.01,0.28,0.33];
const f30 = [0.02,-0.27,0.21,-0.12,0.24,-0.24,0.29,-0.09,0.22,-0.16,0.31,-0.05,0.19,0.08,0.4,-0.38,0.19,-0.02,0.38,-0.4,0.21,0.0,0.43,-0.47,0.23,0.0,0.45,-0.44,0.26,0.03,0.49,-0.44,0.26,0.04,0.48,-0.42,0.3,0.01,0.47,-0.41,0.25,0.01,0.44,-0.42,0.27,-0.09,0.37,-0.34,0.23,-0.09,0.32,-0.27,0.27,0.03,0.28,0.33];
const j30 = [0.0,-0.31,0.2,-0.14,0.23,-0.27,0.28,-0.11,0.21,-0.18,0.3,-0.07,0.17,0.06,0.39,-0.42,0.17,-0.04,0.37,-0.44,0.19,-0.02,0.42,-0.5,0.21,-0.02,0.44,-0.47,0.24,0.01,0.48,-0.47,0.24,0.02,0.47,-0.45,0.29,-0.01,0.46,-0.44,0.23,-0.01,0.43,-0.44,0.25,-0.11,0.36,-0.36,0.21,-0.11,0.31,-0.29,0.26,0.01,0.27,0.31];

const panels = [
  [t01, obs01, f01, j01], [t02, obs02, f02, j02], [t03, obs03, f03, j03], [t04, obs04, f04, j04], [t05, obs05, f05, j05], [t06, obs06, f06, j06],
  [t07, obs07, f07, j07], [t08, obs08, f08, j08], [t09, obs09, f09, j09], [t10, obs10, f10, j10], [t11, obs11, f11, j11], [t12, obs12, f12, j12],
  [t13, obs13, f13, j13], [t14, obs14, f14, j14], [t15, obs15, f15, j15], [t16, obs16, f16, j16], [t17, obs17, f17, j17], [t18, obs18, f18, j18],
  [t19, obs19, f19, j19], [t20, obs20, f20, j20], [t21, obs21, f21, j21], [t22, obs22, f22, j22], [t23, obs23, f23, j23], [t24, obs24, f24, j24],
  [t25, obs25, f25, j25], [t26, obs26, f26, j26], [t27, obs27, f27, j27], [t28, obs28, f28, j28], [t29, obs29, f29, j29], [t30, obs30, f30, j30]
];

// ---- layout (figure pixels, 7800 x 1950) ----
const FIG_W = 7800, FIG_H = 1950;
const colLeft = [79, 1378, 2678, 3977, 5277, 6576];
const rowTop = [37, 424, 811, 1198, 1585];
const plotW = 1192, plotH = 326;
const axisW = 78, topPad = 37, xAxisH = 36, rightPad = 30;
const FONT = 'DejaVu Sans';
const tickSize = 12.5;

const lineStyles = [
  { color: '#ff0000', width: 2.5, dash: [16, 4, 2.5, 4], order: 3, span: false },
  { color: '#008000', width: 1.3, dash: [], order: 2, span: true },
  { color: '#0000ff', width: 1.3, dash: [], order: 1, span: true }
];

// the browser window may be narrower than the figure: fit the whole figure into it
const fig = document.getElementById('fig');
const sx = Math.min(1, window.innerWidth / FIG_W);
const sy = Math.min(1, window.innerHeight / FIG_H);
fig.style.transform = 'scale(' + sx + ',' + sy + ')';

function fmtY(v, dec) {
  const s = Math.abs(v).toFixed(dec);
  return (v < -1e-9 ? '\u2212' : '') + s;
}

const panelDecor = {
  id: 'panelDecor',
  afterDraw(chart, args, opts) {
    const ctx = chart.ctx;
    const a = chart.chartArea;
    ctx.save();
    // frame
    ctx.strokeStyle = '#000';
    ctx.lineWidth = 1;
    ctx.setLineDash([]);
    ctx.strokeRect(Math.round(a.left) + 0.5, Math.round(a.top) + 0.5,
                   Math.round(a.right - a.left), Math.round(a.bottom - a.top));
    // title
    ctx.fillStyle = '#000';
    ctx.font = '18px "' + FONT + '"';
    ctx.textAlign = 'center';
    ctx.textBaseline = 'middle';
    ctx.fillText(opts.title, (a.left + a.right) / 2, a.top - 14);
    // y label
    if (opts.ylabel) {
      ctx.font = tickSize + 'px "' + FONT + '"';
      let w = 0;
      chart.scales.y.ticks.forEach(tk => { w = Math.max(w, ctx.measureText(fmtY(tk.value, opts.dec)).width); });
      ctx.font = '14px "' + FONT + '"';
      ctx.translate(a.left - w - 25, (a.top + a.bottom) / 2);
      ctx.rotate(-Math.PI / 2);
      ctx.fillText('Elevation (m)', 0, 0);
      ctx.setTransform(1, 0, 0, 1, 0, 0);
    }
    // legend (first panel only)
    if (opts.legend) {
      const bx = a.right - 118, by = a.top + 7, bw = 110, bh = 67;
      ctx.fillStyle = 'rgba(255,255,255,0.8)';
      ctx.strokeStyle = '#cccccc';
      ctx.lineWidth = 1;
      ctx.beginPath();
      ctx.roundRect(bx + 0.5, by + 0.5, bw, bh, 3);
      ctx.fill();
      ctx.stroke();
      ctx.font = '13px "' + FONT + '"';
      ctx.textAlign = 'left';
      ctx.textBaseline = 'middle';
      seriesNames.forEach((name, k) => {
        const st = lineStyles[k];
        const yy = by + 13 + k * 20.5;
        ctx.strokeStyle = st.color;
        ctx.lineWidth = st.width;
        ctx.setLineDash(st.dash);
        ctx.beginPath();
        ctx.moveTo(bx + 6, yy);
        ctx.lineTo(bx + 34, yy);
        ctx.stroke();
        ctx.setLineDash([]);
        ctx.fillStyle = '#000';
        ctx.fillText(name, bx + 43, yy);
      });
    }
    ctx.restore();
  }
};

panels.forEach((p, i) => {
  const r = Math.floor(i / 6), c = i % 6;
  const [t, ...vals] = p;
  const step = ySteps[i];
  const dec = step < 0.1 ? 2 : 1;
  const [yMin, yMax] = yLimits[i];

  const cv = document.createElement('canvas');
  cv.width = axisW + plotW + rightPad;
  cv.height = topPad + plotH + xAxisH;
  cv.style.left = (colLeft[c] - axisW) + 'px';
  cv.style.top = (rowTop[r] - topPad) + 'px';
  fig.appendChild(cv);

  const datasets = vals.map((arr, k) => ({
    label: seriesNames[k],
    data: arr.length ? t.map((x, n) => ({ x: x, y: arr[n] })) : [],
    borderColor: lineStyles[k].color,
    borderWidth: lineStyles[k].width,
    borderDash: lineStyles[k].dash,
    order: lineStyles[k].order,
    spanGaps: lineStyles[k].span,
    pointRadius: 0,
    fill: false,
    cubicInterpolationMode: 'monotone'
  }));

  new Chart(cv, {
    type: 'line',
    data: { datasets },
    plugins: [panelDecor],
    options: {
      responsive: false,
      animation: false,
      devicePixelRatio: 1,
      layout: { padding: { left: 0, top: topPad, right: rightPad, bottom: 0 } },
      plugins: {
        legend: { display: false },
        tooltip: { enabled: false },
        panelDecor: { title: titles[i], ylabel: c % 2 === 0, legend: i === 0, dec: dec }
      },
      scales: {
        x: {
          type: 'linear', min: 0, max: 14,
          border: { display: false },
          grid: { drawOnChartArea: false, drawTicks: true, tickLength: 5, color: '#000', lineWidth: 1 },
          ticks: {
            color: '#000', font: { family: FONT, size: tickSize }, padding: 4,
            maxRotation: 0, autoSkip: false,
            callback: v => xTickLabels[xTickDays.indexOf(v)]
          },
          afterBuildTicks: s => { s.ticks = xTickDays.map(v => ({ value: v })); },
          afterFit: s => { s.height = xAxisH; s.paddingLeft = 0; s.paddingRight = 0; }
        },
        y: {
          type: 'linear', min: yMin, max: yMax,
          border: { display: false },
          grid: { drawOnChartArea: false, drawTicks: true, tickLength: 5, color: '#000', lineWidth: 1 },
          ticks: {
            color: '#000', font: { family: FONT, size: tickSize }, padding: 6,
            autoSkip: false,
            callback: v => fmtY(v, dec)
          },
          afterBuildTicks: s => {
            const k0 = Math.ceil(yMin / step - 1e-6), k1 = Math.floor(yMax / step + 1e-6);
            const list = [];
            for (let k = k0; k <= k1; k++) list.push({ value: +(k * step).toFixed(6) });
            s.ticks = list;
          },
          afterFit: s => { s.width = axisW; s.paddingTop = 0; s.paddingBottom = 0; }
        }
      }
    }
  });
});
</script>
</body>
</html>
